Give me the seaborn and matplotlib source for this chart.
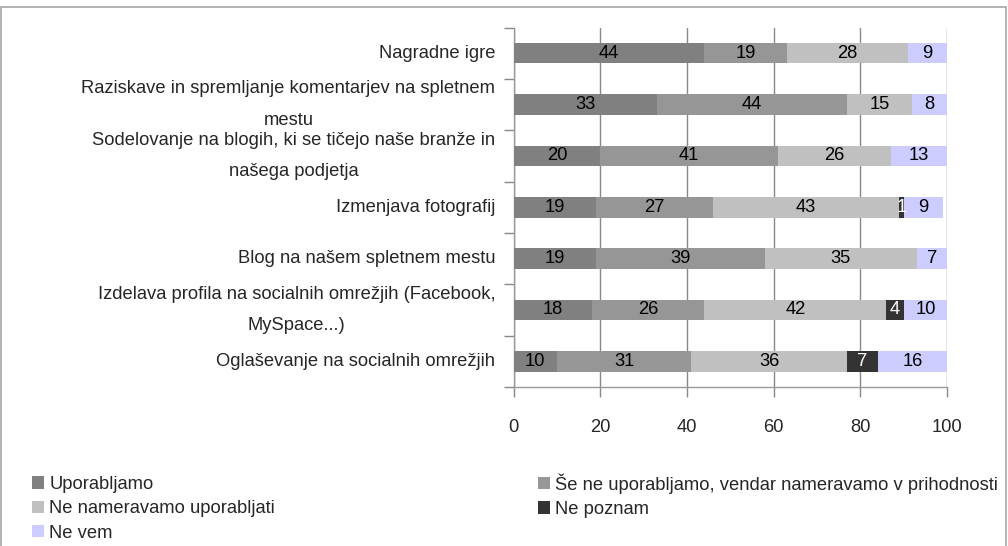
import numpy as np
import pandas as pd
import matplotlib
matplotlib.use("Agg")
import matplotlib.pyplot as plt
from matplotlib.patches import Patch, Rectangle
import seaborn as sns

categories = [
    "Nagradne igre",
    "Raziskave in spremljanje komentarjev na spletnem\nmestu",
    "Sodelovanje na blogih, ki se tičejo naše branže in\nnašega podjetja",
    "Izmenjava fotografij",
    "Blog na našem spletnem mestu",
    "Izdelava profila na socialnih omrežjih (Facebook,\nMySpace...)",
    "Oglaševanje na socialnih omrežjih",
]
series_names = [
    "Uporabljamo",
    "Še ne uporabljamo, vendar nameravamo v prihodnosti",
    "Ne nameravamo uporabljati",
    "Ne poznam",
    "Ne vem",
]
uporabljamo = [44, 33, 20, 19, 19, 18, 10]
se_ne = [19, 44, 41, 27, 39, 26, 31]
ne_nameravamo = [28, 15, 26, 43, 35, 42, 36]
ne_poznam = [0, 0, 0, 1, 0, 4, 7]
ne_vem = [9, 8, 13, 9, 7, 10, 16]
series_values = [uporabljamo, se_ne, ne_nameravamo, ne_poznam, ne_vem]
colors = ["#808080", "#969696", "#c0c0c0", "#333333", "#ccccff"]
label_colors = ["black", "black", "black", "white", "black"]
x_ticks = [0, 20, 40, 60, 80, 100]

sns.set_theme(style="white")
FS = 13.2
plt.rcParams["font.family"] = ["Liberation Sans", "DejaVu Sans"]
plt.rcParams["font.size"] = FS

fig = plt.figure(figsize=(10.08, 5.46), dpi=100)
ax = fig.add_axes([513.5 / 1008, 1 - 387 / 546, (947 - 513.5) / 1008, (387 - 27.5) / 546])

vals = np.array(series_values, dtype=float)
cum = np.cumsum(vals, axis=0)

# draw cumulative bars from the outermost series inward so they stack
for k in range(len(series_names) - 1, -1, -1):
    df = pd.DataFrame({"cat": categories, "val": cum[k]})
    sns.barplot(data=df, x="val", y="cat", orient="h", color=colors[k],
                width=0.4, ax=ax, saturation=1, zorder=3, linewidth=0)

for k in range(len(series_names)):
    for i in range(len(categories)):
        v = vals[k, i]
        if v <= 0:
            continue
        ax.text(cum[k, i] - v / 2, i, f"{int(v)}", ha="center", va="center",
                color=label_colors[k], fontsize=FS, zorder=5)

ax.set_xlim(0, 100)
ax.set_ylim(6.5, -0.5)
ax.set_xticks(x_ticks)
ax.set_xticklabels([str(t) for t in x_ticks], fontsize=FS)
ax.set_xlabel("")
ax.set_ylabel("")
ax.xaxis.grid(True, color="#888888", linewidth=1.0, zorder=0)
ax.yaxis.grid(False)
ax.set_axisbelow(True)

ax.set_yticks(range(len(categories)))
ax.set_yticklabels(categories, multialignment="center", linespacing=2.1, fontsize=FS)
for t in ax.get_yticklabels():
    t.set_verticalalignment("center")
ax.set_yticks(np.arange(-0.5, len(categories), 1.0), minor=True)
ax.tick_params(axis="y", which="major", length=0, pad=13)
ax.tick_params(axis="y", which="minor", length=7, color="#888888", width=1, left=True)
ax.tick_params(axis="x", which="major", length=7, color="#888888", width=1,
               bottom=True, direction="out", pad=16)

for s in ["top", "right"]:
    ax.spines[s].set_visible(False)
for s in ["left", "bottom"]:
    ax.spines[s].set_color("#999999")
    ax.spines[s].set_linewidth(1.0)

handles = [Patch(facecolor=c, edgecolor="none") for c in colors]
leg_kw = dict(frameon=False, handlelength=0.65, handleheight=0.65, handletextpad=0.3,
              labelspacing=0.4, fontsize=FS, borderpad=0, borderaxespad=0)
leg1 = fig.legend([handles[0], handles[2], handles[4]],
                  [series_names[0], series_names[2], series_names[4]],
                  loc="upper left", bbox_to_anchor=(32 / 1008, 1 - 476 / 546), **leg_kw)
leg2 = fig.legend([handles[1], handles[3]], [series_names[1], series_names[3]],
                  loc="upper left", bbox_to_anchor=(538 / 1008, 1 - 473 / 546), **leg_kw)

fig.patches.append(Rectangle((1 / 1008, -0.01), 1005 / 1008, 1.01 - 7 / 546,
                             transform=fig.transFigure, fill=False,
                             edgecolor="#a6a6a6", linewidth=1.2))

fig.savefig("out.png", dpi=100)
